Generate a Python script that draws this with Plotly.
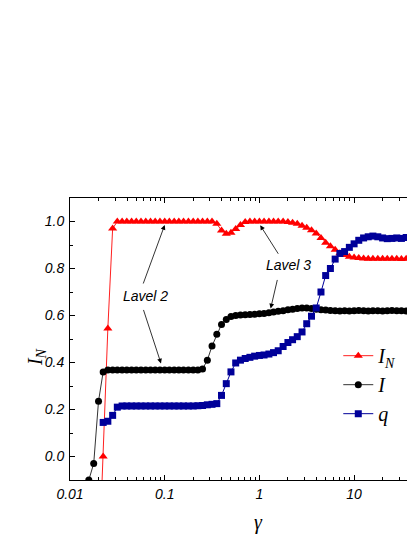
import plotly.graph_objects as go
import math

gamma = [0.0158, 0.0178, 0.0200, 0.0224, 0.0251, 0.0282, 0.0316, 0.0355, 0.0398, 0.0447,
         0.0501, 0.0562, 0.0631, 0.0708, 0.0794, 0.0891, 0.100, 0.112, 0.126, 0.141,
         0.158, 0.178, 0.200, 0.224, 0.251, 0.282, 0.316, 0.355, 0.398, 0.447,
         0.501, 0.562, 0.631, 0.708, 0.794, 0.891, 1.00, 1.12, 1.26, 1.41,
         1.58, 1.78, 2.00, 2.24, 2.51, 2.82, 3.16, 3.55, 3.98, 4.47,
         5.01, 5.62, 6.31, 7.08, 7.94, 8.91, 10.0, 11.2, 12.6, 14.1,
         15.8, 17.8, 20.0, 22.4, 25.1, 28.2, 31.6, 35.5, 39.8, 44.7,
         50.1, 56.2]

I_N = [None, None, -0.5, 0.0, 0.545, 0.97, 1.0, 1.0, 1.0, 1.0,
       1.0, 1.0, 1.0, 1.0, 1.0, 1.0, 1.0, 1.0, 1.0, 1.0,
       1.0, 1.0, 1.0, 1.0, 1.0, 1.0, 1.0, 0.99, 0.962, 0.948,
       0.952, 0.968, 0.985, 0.998, 1.0, 1.0, 1.0, 1.0, 1.0, 1.0,
       1.0, 1.0, 0.998, 0.995, 0.99, 0.982, 0.973, 0.963, 0.949, 0.93,
       0.91, 0.895, 0.88, 0.865, 0.857, 0.85, 0.847, 0.845, 0.843, 0.842,
       0.842, 0.841, 0.842, 0.841, 0.841, 0.842, 0.84, 0.841, 0.84, 0.841,
       0.84, 0.84]

I_val = [-0.1, -0.03, 0.235, 0.36, 0.368, 0.368, 0.368, 0.368, 0.368, 0.368,
         0.368, 0.368, 0.368, 0.368, 0.368, 0.368, 0.368, 0.368, 0.368, 0.368,
         0.368, 0.368, 0.368, 0.368, 0.372, 0.41, 0.47, 0.52, 0.562, 0.583,
         0.596, 0.60, 0.602, 0.603, 0.604, 0.605, 0.607, 0.609, 0.612, 0.615,
         0.618, 0.62, 0.624, 0.627, 0.63, 0.632, 0.632, 0.63, 0.627, 0.625,
         0.623, 0.621, 0.62, 0.619, 0.62, 0.619, 0.62, 0.621, 0.62, 0.619,
         0.62, 0.62, 0.619, 0.62, 0.621, 0.62, 0.62, 0.619, 0.62, 0.62,
         0.621, 0.62]

q = [None, None, None, 0.145, 0.15, 0.175, 0.21, 0.215, 0.215, 0.215,
     0.215, 0.215, 0.215, 0.215, 0.215, 0.215, 0.215, 0.215, 0.215, 0.215,
     0.215, 0.215, 0.215, 0.216, 0.217, 0.22, 0.222, 0.225, 0.26, 0.31,
     0.36, 0.398, 0.41, 0.417, 0.422, 0.427, 0.43, 0.432, 0.436, 0.442,
     0.45, 0.468, 0.485, 0.497, 0.51, 0.53, 0.565, 0.597, 0.632, 0.70,
     0.77, 0.80, 0.84, 0.864, 0.872, 0.89, 0.905, 0.92, 0.93, 0.935,
     0.938, 0.935, 0.93, 0.927, 0.928, 0.93, 0.928, 0.932, 0.935, 0.93,
     0.934, 0.935]

x_ticks = [0.01, 0.1, 1, 10]
x_tick_text = ["0.01", "0.1", "1", "10"]
y_ticks = [0.0, 0.2, 0.4, 0.6, 0.8, 1.0]
y_tick_text = ["0.0", "0.2", "0.4", "0.6", "0.8", "1.0"]

# annotation texts: (label, gamma, value)
labels = [("Lavel 2", 0.0626, 0.681), ("Lavel 3", 2.05, 0.813)]
# arrows: (head gamma, head value, tail dx px, tail dy px)
arrows = [(0.100, 0.985, -22, 60), (0.0914, 0.396, -18, -55),
          (1.02, 0.984, 19, 30), (1.315, 0.63, 7, -30)]

fig = go.Figure()
fig.add_trace(go.Scatter(x=gamma, y=I_N, mode="lines+markers", name="<i>I</i><sub><i>N</i></sub>",
                         line=dict(color="#FF2020", width=1),
                         marker=dict(symbol="triangle-up", size=8, color="#FF0000"),
                         connectgaps=False))
fig.add_trace(go.Scatter(x=gamma, y=I_val, mode="lines+markers", name="<i>I</i>",
                         line=dict(color="#333333", width=1),
                         marker=dict(symbol="circle", size=7, color="#000000")))
fig.add_trace(go.Scatter(x=gamma, y=q, mode="lines+markers", name="<i>q</i>",
                         line=dict(color="#000099", width=1),
                         marker=dict(symbol="square", size=7, color="#000099")))

minor_x = [m * 10 ** e for e in (-2, -1, 0, 1) for m in range(2, 10)]

fig.update_xaxes(type="log", range=[-2, 1.7276],
                 tickvals=x_ticks, ticktext=x_tick_text,
                 ticks="inside", ticklen=5, tickwidth=1, tickcolor="black",
                 showline=True, linecolor="black", linewidth=1, mirror="ticks",
                 showgrid=False, zeroline=False,
                 tickfont=dict(family="Liberation Sans", size=14, color="black", style="italic"),
                 ticklabelstandoff=1,
                 minor=dict(tickvals=minor_x, ticks="inside", ticklen=3, tickcolor="black", showgrid=False))
fig.update_yaxes(range=[-0.1, 1.1],
                 tickvals=y_ticks, ticktext=y_tick_text,
                 ticks="inside", ticklen=5, tickwidth=1, tickcolor="black",
                 showline=True, linecolor="black", linewidth=1, mirror=False,
                 showgrid=False, zeroline=False,
                 tickfont=dict(family="Liberation Sans", size=14, color="black", style="italic"),
                 ticklabelstandoff=2,
                 minor=dict(dtick=0.1, ticks="inside", ticklen=3, tickcolor="black", showgrid=False))

for text, gx, gy in labels:
    fig.add_annotation(x=math.log10(gx), y=gy, xref="x", yref="y", text=text, showarrow=False,
                       xanchor="center", yanchor="middle",
                       font=dict(family="Liberation Sans", size=14, color="black", style="italic"))
for gx, gy, dx, dy in arrows:
    fig.add_annotation(x=math.log10(gx), y=gy, xref="x", yref="y", text="", showarrow=True,
                       ax=dx, ay=dy, arrowhead=2, arrowsize=1.2, arrowwidth=0.8, arrowcolor="black")

fig.add_annotation(x=0.535, y=-0.15, xref="paper", yref="paper", text="<i>γ</i>", showarrow=False,
                   xanchor="center", yanchor="middle",
                   font=dict(family="Liberation Serif", size=20, color="black"))
fig.add_annotation(x=-0.0963, y=0.436, xref="paper", yref="paper", text="<i>I</i><sub><i>N</i></sub>",
                   showarrow=False, textangle=-90, xanchor="center", yanchor="middle",
                   font=dict(family="Liberation Serif", size=20, color="black"))

fig.update_layout(width=415, height=537, margin=dict(l=62, r=0, t=190, b=65),
                  paper_bgcolor="white", plot_bgcolor="white",
                  legend=dict(x=0.76, y=0.51, xanchor="left", yanchor="top",
                              bgcolor="rgba(0,0,0,0)",
                              font=dict(family="Liberation Serif", size=20, color="black")),
                  showlegend=True)

fig.write_html("out.html")
